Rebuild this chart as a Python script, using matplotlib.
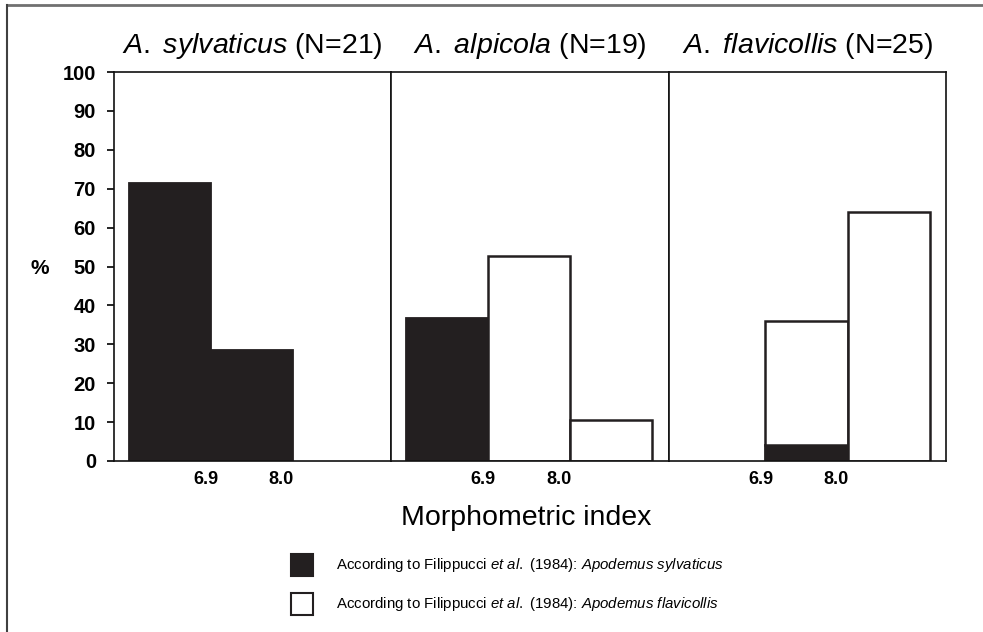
import matplotlib
matplotlib.use("Agg")
import matplotlib.pyplot as plt
from matplotlib.patches import Rectangle
from matplotlib.lines import Line2D
import numpy as np

plt.rcParams['font.family'] = ['Liberation Sans', 'DejaVu Sans']
plt.rcParams['mathtext.fontset'] = 'custom'
plt.rcParams['mathtext.rm'] = 'Liberation Sans'
plt.rcParams['mathtext.it'] = 'Liberation Sans:italic'
plt.rcParams['mathtext.bf'] = 'Liberation Sans:bold'

# data: % of specimens per morphometric index class (<6.9, 6.9-8.0, >8.0)
species = ["sylvaticus", "alpicola", "flavicollis"]
sample_n = [21, 19, 25]
tick_labels = ["6.9", "8.0"]
pct_sylvaticus_type = [
    [71.4, 28.6, 0.0],
    [36.8, 0.0, 0.0],
    [0.0, 4.0, 0.0],
]
pct_flavicollis_type = [
    [0.0, 0.0, 0.0],
    [0.0, 52.6, 10.5],
    [0.0, 32.0, 64.0],
]
legend_labels = [
    r"According to Filippucci $\it{et\ al.}$ (1984): $\it{Apodemus\ sylvaticus}$",
    r"According to Filippucci $\it{et\ al.}$ (1984): $\it{Apodemus\ flavicollis}$",
]

BLACK = "#231f20"
W, H = 983, 632

fig, axes = plt.subplots(1, 3, figsize=(W / 100, H / 100), dpi=100, sharey=True)
fig.subplots_adjust(left=114 / W, right=946 / W, bottom=1 - 461 / H, top=1 - 72 / H, wspace=0)

x = np.arange(3)
for i, ax in enumerate(axes):
    blk = np.array(pct_sylvaticus_type[i])
    wht = np.array(pct_flavicollis_type[i])
    kb = blk > 0
    kw = wht > 0
    ax.bar(x[kb], blk[kb], width=1.0, color=BLACK, edgecolor=BLACK, linewidth=1.3)
    ax.bar(x[kw], wht[kw], width=1.0, bottom=blk[kw], color="white", edgecolor=BLACK, linewidth=1.8)
    ax.set_xlim(-0.68, 2.70)
    ax.set_ylim(0, 100)
    ax.set_xticks([0.44, 1.36])
    ax.set_xticklabels(tick_labels, fontweight="bold", fontsize=13)
    ax.tick_params(axis="x", length=0, pad=7)
    for sp in ax.spines.values():
        sp.set_linewidth(1.2)
        sp.set_color("#111111")
    ax.set_title(r"$\it{A.\ %s}$ (N=%d)" % (species[i], sample_n[i]), fontsize=20.5, pad=14)
    if i == 0:
        ax.set_yticks(np.arange(0, 101, 10))
        ax.tick_params(axis="y", length=5, width=1.2, pad=8, labelsize=14.5)
        for lab in ax.get_yticklabels():
            lab.set_fontweight("bold")
    else:
        ax.tick_params(axis="y", length=0, labelleft=False)

fig.text(40 / W, 1 - 268 / H, "%", fontsize=15, fontweight="bold", ha="center", va="center")
fig.text(526 / W, 1 - 518 / H, "Morphometric index", fontsize=20.5, ha="center", va="center")

# legend
for j, (fc, lab) in enumerate(zip([BLACK, "white"], legend_labels)):
    yc = [565, 604][j]
    fig.patches.append(Rectangle((291 / W, 1 - (yc + 11) / H), 22 / W, 22 / H,
                                 transform=fig.transFigure, facecolor=fc,
                                 edgecolor=BLACK, linewidth=1.5))
    fig.text(336 / W, 1 - yc / H, lab, fontsize=10.8, ha="left", va="center")

# outer frame (top and left edges visible)
fig.lines.append(Line2D([7 / W, 1.0], [1 - 5 / H, 1 - 5 / H], transform=fig.transFigure,
                        color="#707070", linewidth=2))
fig.lines.append(Line2D([7 / W, 7 / W], [1 - 5 / H, 0], transform=fig.transFigure,
                        color="#404040", linewidth=1.5))

fig.savefig("out.png", dpi=100)
